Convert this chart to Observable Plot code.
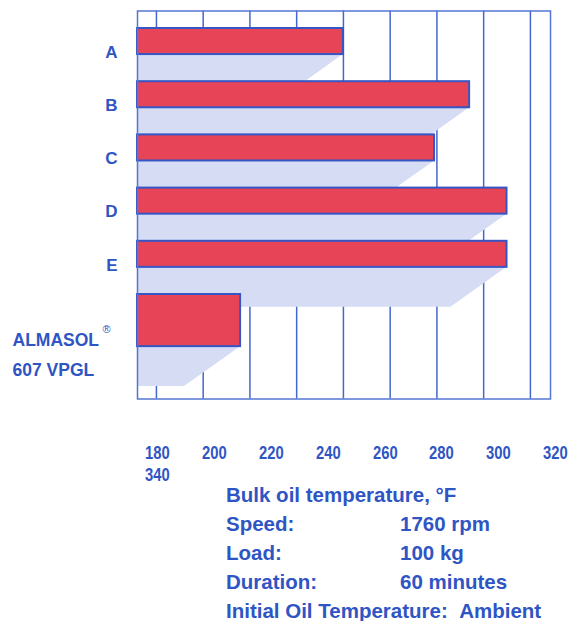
<!DOCTYPE html>
<html><head><meta charset="utf-8">
<script src="https://cdn.jsdelivr.net/npm/d3@7"></script>
<script src="https://cdn.jsdelivr.net/npm/@observablehq/plot@0.6"></script>
<style>
html,body{margin:0;padding:0;background:#fff;overflow:hidden;width:571px;height:621px;}
body{position:relative;font-family:"Liberation Sans",Arial,sans-serif;font-weight:bold;color:#2f55c4;}
#chart{position:absolute;left:0;top:0;}
#ticks{position:absolute;left:142px;top:442px;width:432px;display:flex;flex-wrap:wrap;column-gap:26.9px;row-gap:0;}
#ticks span{display:block;width:30px;text-align:center;font-size:18.5px;line-height:22px;transform:scaleX(0.8);}
#notes{position:absolute;left:226px;top:480px;font-size:20.5px;line-height:29px;white-space:pre;}
.row{display:flex;}
.row .k{min-width:174px;}
</style></head><body>
<div id="chart"></div><div id="ticks"></div><div id="notes"></div>
<script>
// ---- data ----
const categories = ["A", "B", "C", "D", "E", "ALMASOL"];
const categoryLabels = ["A", "B", "C", "D", "E", "ALMASOL\n607 VPGL"];
const values = [260, 314, 299, 330, 330, 216];           // bulk oil temperature, °F
const ticks = [180, 200, 220, 240, 260, 280, 300, 320, 340];
const axisTitle = "Bulk oil temperature, \u00B0F";
const conditionNames = ["Speed:", "Load:", "Duration:", "Initial Oil Temperature:"];
const conditionValues = ["1760 rpm", "100 kg", "60 minutes", "Ambient"];

// ---- layout / style constants ----
const BLUE = "#2f55c4";
const X0 = 171.9, X1 = 348.6;           // frame extent in °F
const last = categories.length - 1;
const barH = i => (i === last ? 0.98 : 0.49);
const shadowDepth = 0.75;               // in category units
const shadowSlant = 24;                 // in °F

const rows = categories.map((c, i) => ({c, i, v: values[i], label: categoryLabels[i]}));
const shadow = rows.flatMap(d => [
  {c: d.c, y: d.i + barH(d.i), xl: X0, xr: d.v},
  {c: d.c, y: d.i + barH(d.i) + shadowDepth, xl: X0, xr: d.v - shadowSlant}
]);

const svg = Plot.plot({
  width: 571, height: 400,
  marginTop: 10.5, marginBottom: 1.5, marginLeft: 137, marginRight: 21,
  style: {fontFamily: "'Liberation Sans', Arial, sans-serif", background: "#fff", overflow: "visible"},
  x: {domain: [X0, X1], axis: null},
  y: {domain: [0, categories.length], range: [28, 28 + 53.2 * categories.length], axis: null},
  marks: [
    Plot.ruleX(ticks, {stroke: "#4566cc", strokeWidth: 1.5}),
    Plot.areaX(shadow, {y: "y", x1: "xl", x2: "xr", z: "c", fill: "#d5dcf4", curve: "linear"}),
    Plot.rectX(rows, {x1: () => X0, x2: "v", y1: "i", y2: d => d.i + barH(d.i),
      fill: "#e84458", stroke: "#3556c4", strokeWidth: 2}),
    Plot.frame({stroke: "#5575d5", strokeWidth: 1.5}),
    Plot.text(rows.filter(d => d.i < last), {text: "label", y: d => d.i + 0.45, frameAnchor: "left",
      dx: -20, textAnchor: "end", fill: BLUE, fontSize: 17, fontWeight: "bold"}),
    Plot.text(rows.filter(d => d.i === last), {text: "label", y: d => d.i + 0.45, frameAnchor: "left",
      dx: -125, dy: 33, textAnchor: "start", lineAnchor: "middle", lineHeight: 1.7,
      fill: BLUE, fontSize: 17.5, fontWeight: "bold"}),
    Plot.text(rows.filter(d => d.i === last), {text: () => "\u00AE", y: d => d.i + 0.45, frameAnchor: "left",
      dx: -35, dy: 11, textAnchor: "start", fill: BLUE, fontSize: 11, fontWeight: "normal"})
  ]
});
document.getElementById("chart").appendChild(svg);

// tick labels (as printed: one wrapped line of text)
const tickDiv = document.getElementById("ticks");
ticks.forEach(t => { const s = document.createElement("span"); s.textContent = t; tickDiv.appendChild(s); });

// title and test conditions
const notes = document.getElementById("notes");
const title = document.createElement("div"); title.textContent = axisTitle; notes.appendChild(title);
conditionNames.forEach((n, i) => {
  const r = document.createElement("div"); r.className = "row";
  const k = document.createElement("span"); k.className = "k"; k.textContent = n + "  ";
  const v = document.createElement("span"); v.textContent = conditionValues[i];
  r.appendChild(k); r.appendChild(v); notes.appendChild(r);
});
</script>
</body></html>
